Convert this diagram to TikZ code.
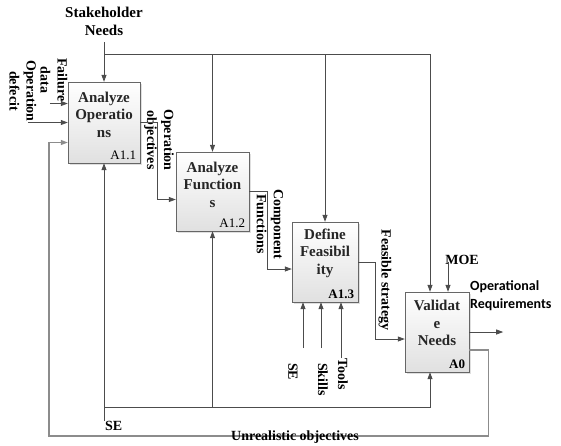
\documentclass[tikz,border=0pt]{standalone}
\usepackage{fontspec}
\setmainfont{Liberation Serif}
\newfontfamily\outfont{Carlito}
\usetikzlibrary{arrows.meta,shadows,calc}

\tikzset{
  idefbox/.style={draw=black!60, top color=white, bottom color=black!12,
    minimum height=80pt, inner sep=0pt,
    drop shadow={opacity=0.25,shadow xshift=1.5pt,shadow yshift=-1.5pt}},
  boxtxt/.style={font=\fontsize{15}{17.5}\selectfont\bfseries, align=center, text=black!85},
  boxid/.style={font=\fontsize{13}{15}\selectfont, anchor=south east, inner sep=1pt},
  flow/.style={draw=black!70, line width=0.8pt, -{Triangle[length=7pt,width=5pt]}},
  link/.style={draw=black!70, line width=0.8pt},
  fback/.style={draw=black!45, line width=1.2pt, -{Triangle[length=7pt,width=5pt]}},
  tag/.style={font=\fontsize{14}{17}\selectfont\bfseries, align=center, inner sep=0pt},
  vtag/.style={tag, rotate=-90},
}

\begin{document}
\begin{tikzpicture}[x=1pt,y=-1pt]
  \useasboundingbox (0,0) rectangle (561,445);

  % activity boxes
  \node[idefbox, minimum width=72pt, minimum height=81pt] (a11) at (104,122.5) {};
  \node[idefbox, minimum width=73pt, minimum height=79pt] (a12) at (212.5,191.5) {};
  \node[idefbox, minimum width=66pt] (a13) at (325,262) {};
  \node[idefbox, minimum width=64pt] (a0) at (437,332) {};

  \node[boxtxt] (t11) at ([yshift=8pt]a11.center) {Analyze\\Operatio\\ns};
  \node[boxtxt] (t12) at ([yshift=7pt]a12.center) {Analyze\\Function\\s};
  \node[boxtxt] (t13) at ([yshift=9pt]a13.center) {Define\\Feasibil\\ity};
  \node[boxtxt] (t0)  at ([yshift=9pt]a0.center) {Validat\\e\\Needs};

  \node[boxid] (i11) at ([shift={(-3pt,2pt)}]a11.south east) {A1.1};
  \node[boxid] (i12) at ([shift={(-3pt,2pt)}]a12.south east) {A1.2};
  \node[boxid, font=\fontsize{13}{15}\selectfont\bfseries] (i13) at ([shift={(-3pt,2pt)}]a13.south east) {A1.3};
  \node[boxid, font=\fontsize{13}{15}\selectfont\bfseries] (i0) at ([shift={(-3pt,2pt)}]a0.south east) {A0};

  % controls
  \node[tag, font=\fontsize{15}{18}\selectfont\bfseries] (sh) at (104,21) {Stakeholder\\Needs};
  \coordinate (cbus) at (104,54);
  \coordinate (c0) at ([xshift=-7pt]a0.north);
  \coordinate (cm) at ([xshift=11pt]a0.north);
  \draw[flow] ($(cbus)+(0,-12)$) -- (a11.north);
  \draw[link] (cbus) -- (c0 |- cbus);
  \draw[flow] (cbus -| a12.north) -- (a12.north);
  \draw[flow] (cbus -| a13.north) -- (a13.north);
  \draw[flow] (c0 |- cbus) -- (c0);
  \node[tag] (moe) at (462,260) {MOE};
  \draw[flow] ($(cm)+(0,-30)$) -- (cm);

  % inputs
  \node[vtag] (fd) at (54,80) {Failure\\data};
  \node[vtag] (od) at (23,91) {Operation\\defecit};
  \draw[flow] ($(a11.west)+(-18,-19)$) -- ($(a11.west)+(0,-19)$);
  \draw[flow] ($(a11.west)+(-40,0)$) -- (a11.west);

  % outputs
  \node[vtag] (oo) at (159,140) {Operation\\objectives};
  \draw[flow] (a11.east) -- ++(17,0) |- ($(a12.west)+(0,8)$);
  \node[vtag] (cf) at (270,224) {Component\\Functions};
  \draw[flow] (a12.east) -- ++(18,0) |- ($(a13.west)+(0,7)$);
  \node[vtag] (fs) at (385,280) {Feasible strategy};
  \draw[flow] (a13.east) -- ++(17,0) |- ($(a0.west)+(0,7)$);
  \node[anchor=west, align=left, inner sep=0pt,
        font=\outfont\fontsize{14}{18}\selectfont\bfseries] (opr) at (470,296) {Operational\\Requirements};
  \draw[flow] (a0.east) -- ++(34,0);

  % feedback
  \coordinate (fbl) at (49,436);
  \draw[fback] ($(a0.east)+(0,18)$) -- ++(19,0) |- (fbl) |- ($(a11.west)+(0,20)$);
  \node[tag] (uo) at (295,437) {Unrealistic objectives};

  % mechanisms
  \coordinate (mbus) at (104,407);
  \coordinate (sebot) at (104,421);
  \coordinate (c0b) at ([xshift=-7pt]a0.south);
  \node[tag, anchor=west] (se1) at (105,426) {SE};
  \draw[flow] (sebot) -- (a11.south);
  \draw[flow] (mbus) -| (c0b);
  \draw[flow] (mbus -| a12.south) -- (a12.south);
  \foreach \dx/\len/\nm/\txt/\lx/\ly in {-22/46/mse/SE/293/363, -4/46/msk/Skills/323/363, 16/56/mtl/Tools/343/358}{
    \node[vtag, anchor=west] (\nm) at (\lx,\ly) {\txt};
    \draw[flow] ($(a13.south)+(\dx,\len)$) -- ($(a13.south)+(\dx,0)$);
  }
\end{tikzpicture}
\end{document}
